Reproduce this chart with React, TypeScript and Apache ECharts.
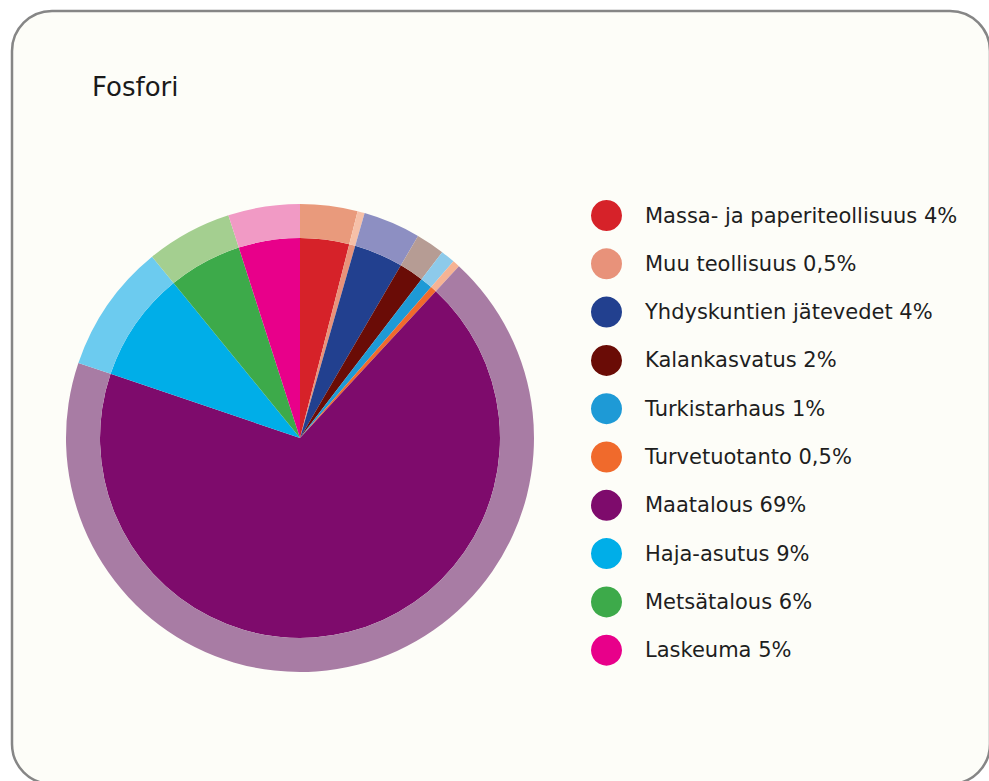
import React, { useEffect, useRef } from "react";
import * as echarts from "echarts";

const title = "Fosfori";
const categories = [
  "Massa- ja paperiteollisuus",
  "Muu teollisuus",
  "Yhdyskuntien jätevedet",
  "Kalankasvatus",
  "Turkistarhaus",
  "Turvetuotanto",
  "Maatalous",
  "Haja-asutus",
  "Metsätalous",
  "Laskeuma",
];
const values = [4, 0.5, 4, 2, 1, 0.5, 69, 9, 6, 5];
const innerColors = [
  "#d62229",
  "#e8927a",
  "#22408f",
  "#6a0c06",
  "#1e9ad6",
  "#f06a2c",
  "#7e0b6c",
  "#00aee8",
  "#3daa4a",
  "#e8008a",
];
const outerColors = [
  "#e99a7c",
  "#f6c0a8",
  "#8d8fc2",
  "#b69c94",
  "#8dcaea",
  "#f6b394",
  "#a87ca4",
  "#6ccbef",
  "#a4cf90",
  "#f19ac5",
];

const fmt = (v: number) => String(v).replace(".", ",") + "%";

export default function App() {
  const ref = useRef<HTMLDivElement>(null);
  useEffect(() => {
    if (!ref.current) return;
    const chart = echarts.init(ref.current, null, { renderer: "svg" });
    const font = "'DejaVu Sans', sans-serif";
    chart.setOption({
      animation: false,
      backgroundColor: "transparent",
      graphic: [
        {
          type: "rect",
          shape: { x: 12, y: 11, width: 978, height: 773, r: 40 },
          style: { fill: "#fdfdf8", stroke: "#868686", lineWidth: 2.5 },
          z: -10,
        },
      ],
      title: {
        text: title,
        left: 87,
        top: 69,
        textStyle: { fontFamily: font, fontSize: 26, fontWeight: "normal", color: "#1a1a1a" },
      },
      legend: {
        orient: "vertical",
        left: 591,
        top: 200,
        padding: 0,
        icon: "circle",
        itemWidth: 31,
        itemHeight: 31,
        itemGap: 17.3,
        data: categories,
        selectedMode: false,
        formatter: (name: string) => {
          const i = categories.indexOf(name);
          return name + " " + fmt(values[i]);
        },
        textStyle: { fontFamily: font, fontSize: 21, color: "#1e1e1e", padding: [0, 0, 0, 18] },
      },
      series: [
        {
          type: "pie",
          name: "inner",
          center: [300, 438],
          radius: [0, 200],
          startAngle: 90,
          clockwise: true,
          label: { show: false },
          labelLine: { show: false },
          emphasis: { disabled: true },
          data: categories.map((c, i) => ({
            name: c,
            value: values[i],
            itemStyle: { color: innerColors[i] },
          })),
        },
        {
          type: "pie",
          name: "outer",
          center: [300, 438],
          radius: [200, 234],
          startAngle: 90,
          clockwise: true,
          label: { show: false },
          labelLine: { show: false },
          emphasis: { disabled: true },
          data: categories.map((c, i) => ({
            name: c,
            value: values[i],
            itemStyle: { color: outerColors[i] },
          })),
        },
      ],
    });
    return () => chart.dispose();
  }, []);
  return (
    <div
      ref={ref}
      style={{ width: 989, height: 781, position: "absolute", left: 0, top: 0, background: "#ffffff" }}
    />
  );
}
